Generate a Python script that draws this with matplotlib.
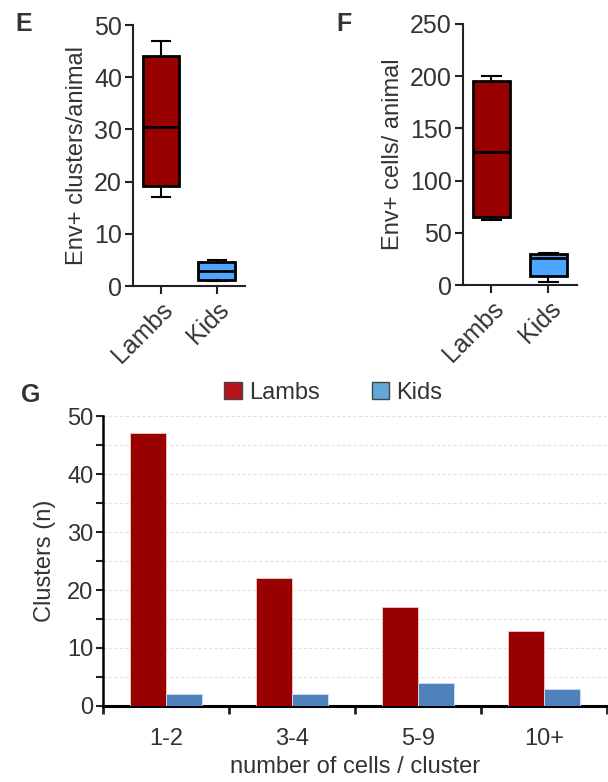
import numpy as np
import matplotlib
matplotlib.use("Agg")
import matplotlib.pyplot as plt
from matplotlib.patches import Patch

plt.rcParams['font.family'] = ['Liberation Sans', 'DejaVu Sans']

# box plot summaries (whisker low, q1, median, q3, whisker high)
groups = ["Lambs", "Kids"]
clusters_whislo = [17, 1]
clusters_q1 = [19.2, 1.2]
clusters_med = [30.5, 3.0]
clusters_q3 = [44.0, 4.7]
clusters_whishi = [47, 5]

cells_whislo = [62, 3]
cells_q1 = [65, 9]
cells_med = [127, 26]
cells_q3 = [195, 30]
cells_whishi = [200, 31]

# cluster size distribution
size_bins = ["1-2", "3-4", "5-9", "10+"]
lambs_counts = [47, 22, 17, 13]
kids_counts = [2, 2, 4, 3]

BOX_COLORS = ["#990000", "#4da6ff"]
TXT = "#333333"

fig = plt.figure(figsize=(6.08, 7.82), dpi=100)


def box_panel(ax, whislo, q1, med, q3, whishi, ylim, yticks, ylabel):
    stats = []
    for i, g in enumerate(groups):
        stats.append(dict(label=g, whislo=whislo[i], q1=q1[i], med=med[i],
                          q3=q3[i], whishi=whishi[i], fliers=[]))
    bp = ax.bxp(stats, positions=[1, 2], widths=0.66, patch_artist=True,
                showfliers=False,
                boxprops=dict(linewidth=2, edgecolor="black"),
                medianprops=dict(color="black", linewidth=2),
                whiskerprops=dict(color="black", linewidth=1.5),
                capprops=dict(color="black", linewidth=1.5),
                capwidths=0.33)
    for patch, c in zip(bp["boxes"], BOX_COLORS):
        patch.set_facecolor(c)
    ax.set_xlim(0.5, 2.5)
    ax.set_ylim(*ylim)
    ax.set_yticks(yticks)
    ax.set_xticks([1, 2])
    ax.set_xticklabels(groups, rotation=45, ha="right", rotation_mode="anchor")
    ax.spines[["top", "right"]].set_visible(False)
    for s in ["left", "bottom"]:
        ax.spines[s].set_linewidth(1.5)
        ax.spines[s].set_color("#222222")
    ax.tick_params(labelsize=18, width=1.5, length=6, colors="#222222",
                   labelcolor=TXT, pad=2)
    ax.set_ylabel(ylabel, fontsize=17, color=TXT, labelpad=4)


axE = fig.add_axes([0.2188, 0.634, 0.184, 0.334])
box_panel(axE, clusters_whislo, clusters_q1, clusters_med, clusters_q3,
          clusters_whishi, (0, 50), [0, 10, 20, 30, 40, 50],
          "Env+ clusters/animal")

axF = fig.add_axes([0.7615, 0.6355, 0.1875, 0.334])
box_panel(axF, cells_whislo, cells_q1, cells_med, cells_q3, cells_whishi,
          (0, 250), [0, 50, 100, 150, 200, 250], "Env+ cells/ animal")

# panel G: grouped bars
axG = fig.add_axes([0.1694, 0.0972, 0.829, 0.3708])
x = np.arange(len(size_bins)) + 0.5
w = 0.285
axG.bar(x - w / 2, lambs_counts, w, color="#990000", edgecolor="#f0c8c8",
        linewidth=0.6, zorder=3)
axG.bar(x + w / 2, kids_counts, w, color="#4f81bd", edgecolor="#cfe0f0",
        linewidth=0.6, zorder=3)
axG.set_xlim(0, len(size_bins))
axG.set_ylim(0, 50)
axG.set_yticks([0, 10, 20, 30, 40, 50])
axG.set_yticks(np.arange(5, 50, 10), minor=True)
axG.set_xticks(np.arange(0, len(size_bins) + 1))
axG.set_xticklabels([])
axG.set_xticks(x, minor=True)
axG.set_xticklabels(size_bins, minor=True)
axG.tick_params(axis="x", which="minor", length=0, pad=16, labelsize=17,
                labelcolor=TXT)
axG.tick_params(axis="x", which="major", length=6, width=2, colors="#222222")
axG.tick_params(axis="y", which="both", length=5, width=1.5, colors="#222222",
                labelsize=17, labelcolor=TXT, pad=2)
for yv in np.arange(5, 51, 5):
    axG.axhline(yv, color="#e2e2e2", linewidth=0.8, linestyle=(0, (3, 2)),
                zorder=1)
axG.spines[["top", "right"]].set_visible(False)
axG.spines["left"].set_linewidth(1.8)
axG.spines["bottom"].set_linewidth(2.2)
axG.set_ylabel("Clusters (n)", fontsize=17, color=TXT, labelpad=8)
axG.set_xlabel("number of cells / cluster", fontsize=17, color=TXT,
               labelpad=4)

handles = [Patch(facecolor="#b5121b", edgecolor="#444444", label="Lambs"),
           Patch(facecolor="#5fa8d8", edgecolor="#444444", label="Kids")]
fig.legend(handles=handles, loc="center", bbox_to_anchor=(0.548, 0.498),
           ncol=2, frameon=False, fontsize=17, handlelength=0.75,
           handleheight=0.75, handletextpad=0.3, columnspacing=2.2,
           labelcolor=TXT)

for lab, xx, yy in [("E", 0.025, 0.969), ("F", 0.553, 0.969), ("G", 0.035, 0.495)]:
    fig.text(xx, yy, lab, fontsize=18, fontweight="bold", color=TXT,
             ha="left", va="center")

fig.savefig("out.png", dpi=100)
